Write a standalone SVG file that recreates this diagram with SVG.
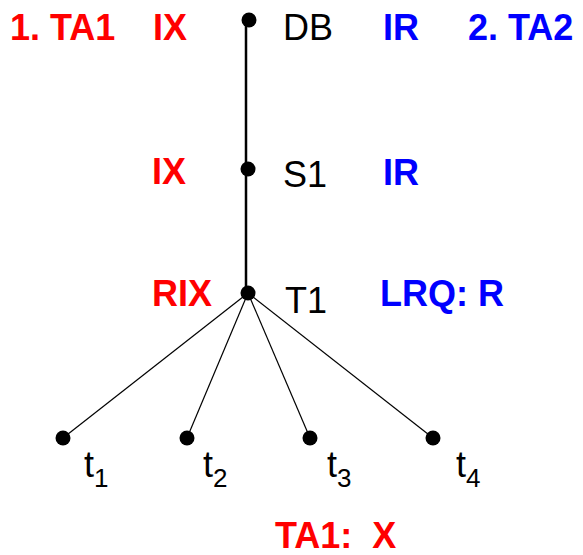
<svg xmlns="http://www.w3.org/2000/svg" width="583" height="555" viewBox="0 0 583 555">
<style>
.r{fill:#ff0000;font-family:"Liberation Sans",Arial,sans-serif;font-weight:bold;font-size:36px}
.b{fill:#0000ff;font-family:"Liberation Sans",Arial,sans-serif;font-weight:bold;font-size:36px}
.k{fill:#000;font-family:"Liberation Sans",Arial,sans-serif;font-size:36px}
.s{font-size:26px}
.dot{fill:#000}
</style>
<rect width="583" height="555" fill="#fff"/>
<g id="connectors" stroke="#000" fill="none">
<line x1="246" y1="20" x2="246" y2="293" stroke-width="2.5"/>
<line x1="248" y1="293" x2="63" y2="438" stroke-width="1.2"/>
<line x1="248" y1="293" x2="187" y2="438" stroke-width="1.2"/>
<line x1="248" y1="293" x2="310" y2="438" stroke-width="1.2"/>
<line x1="248" y1="293" x2="433" y2="438" stroke-width="1.2"/>
</g>
<g id="node-DB"><circle class="dot" cx="249" cy="20" r="7.5"/><text class="k" x="283" y="40">DB</text></g>
<g id="node-S1"><circle class="dot" cx="248" cy="169" r="7.5"/><text class="k" x="283" y="187">S1</text></g>
<g id="node-T1"><circle class="dot" cx="248" cy="293" r="7.5"/><text class="k" x="285" y="313">T1</text></g>
<g id="node-t1"><circle class="dot" cx="63" cy="438" r="7.5"/><text class="k" x="84" y="477">t<tspan class="s" dy="10">1</tspan></text></g>
<g id="node-t2"><circle class="dot" cx="187" cy="438" r="7.5"/><text class="k" x="203" y="477">t<tspan class="s" dy="10">2</tspan></text></g>
<g id="node-t3"><circle class="dot" cx="310" cy="438" r="7.5"/><text class="k" x="327" y="477">t<tspan class="s" dy="10">3</tspan></text></g>
<g id="node-t4"><circle class="dot" cx="433" cy="438" r="7.5"/><text class="k" x="456" y="477">t<tspan class="s" dy="10">4</tspan></text></g>
<g id="labels">
<text class="r" x="10" y="40">1. TA1</text>
<text class="r" x="153" y="40">IX</text>
<text class="b" x="383" y="40">IR</text>
<text class="b" x="468" y="40">2. TA2</text>
<text class="r" x="152" y="184">IX</text>
<text class="b" x="383" y="185">IR</text>
<text class="r" x="152" y="306">RIX</text>
<text class="b" x="380" y="306">LRQ: R</text>
<text class="r" x="275" y="548" xml:space="preserve" style="white-space:pre">TA1:  X</text>
</g>
</svg>
